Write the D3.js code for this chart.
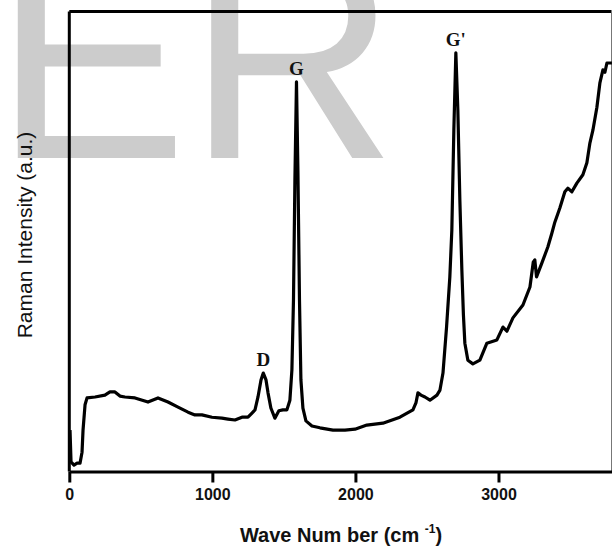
<!DOCTYPE html>
<html>
<head>
<meta charset="utf-8">
<script src="https://cdn.jsdelivr.net/npm/d3@7"></script>
<style>
  body { margin: 0; background: #fff; }
  svg { display: block; }
</style>
</head>
<body>
<div class="chart-container"></div>
<script>
// Raman spectrum (wave number in cm-1, intensity in a.u. 0..1000)
const waveNumber = [5, 12, 33, 54, 75, 89, 96, 110, 124, 180, 249, 284, 319, 354, 389, 459, 550, 620, 690, 760,
  830, 878, 927, 997, 1067, 1109, 1158, 1207, 1249, 1277, 1298, 1319, 1340, 1356, 1375, 1389, 1409, 1437, 1465, 1493,
  1521, 1542, 1556, 1567, 1577, 1588, 1598, 1609, 1619, 1633, 1654, 1696, 1752, 1843, 1927, 1997, 2080, 2192, 2311, 2402,
  2423, 2437, 2458, 2486, 2521, 2570, 2591, 2612, 2637, 2660, 2674, 2688, 2702, 2716, 2730, 2744, 2755, 2765, 2786, 2821,
  2870, 2919, 2989, 3031, 3059, 3101, 3171, 3220, 3243, 3254, 3266, 3303, 3345, 3373, 3394, 3429, 3464, 3485, 3513, 3548,
  3590, 3618, 3639, 3660, 3688, 3709, 3730, 3744, 3758, 3793];
const intensity = [90, 21, 14, 18, 18, 42, 90, 145, 160, 162, 166, 173, 173, 164, 162, 160, 151, 160, 151, 140,
  129, 123, 123, 118, 116, 114, 112, 118, 118, 127, 134, 162, 199, 214, 199, 171, 138, 116, 132, 134,
  134, 155, 221, 373, 634, 847, 655, 373, 199, 138, 110, 99, 95, 90, 90, 92, 101, 105, 118, 134,
  149, 171, 166, 162, 155, 166, 177, 214, 314, 423, 525, 742, 910, 786, 590, 438, 340, 279, 242, 234,
  242, 279, 286, 314, 305, 334, 362, 401, 455, 460, 423, 453, 488, 518, 542, 573, 608, 616, 608, 627,
  645, 671, 714, 742, 792, 845, 873, 868, 888, 888];

// peak labels
const peakNames = ['D', 'G', "G'"];
const peakWave = [1356, 1588, 2702];
const peakHeight = [214, 847, 910];

const xTicks = [0, 1000, 2000, 3000];
const xDomain = [0, 3790];
const yDomain = [0, 1000];

const spectrum = waveNumber.map((w, i) => ({ w: w, v: intensity[i] }));

const svg_width = 613;
const svg_height = 546;
const margin = { top: 11.5, right: 1.5, bottom: 74.5, left: 69.3 };
const chart_width = svg_width - margin.left - margin.right;
const chart_height = svg_height - margin.top - margin.bottom;

const svg = d3.select('.chart-container').append('svg')
  .attr('width', svg_width).attr('height', svg_height);

// watermark behind the plot
svg.append('text')
  .attr('x', -6).attr('y', 158)
  .style('font-family', '"Liberation Sans", Arial, sans-serif')
  .style('font-size', '290px')
  .style('fill', '#cccccc')
  .text('ER');

const g = svg.append('g')
  .attr('transform', `translate(${margin.left},${margin.top})`);

const xScale = d3.scaleLinear().domain(xDomain).range([0, chart_width]);
const yScale = d3.scaleLinear().domain(yDomain).range([chart_height, 0]);

// frame: thick left + top, thin right
g.append('line').attr('x1', 0).attr('x2', 0).attr('y1', 0).attr('y2', chart_height)
  .style('stroke', '#000').style('stroke-width', 3);
g.append('line').attr('x1', 0).attr('x2', chart_width).attr('y1', 0).attr('y2', 0)
  .style('stroke', '#000').style('stroke-width', 3);
g.append('line').attr('x1', chart_width).attr('x2', chart_width).attr('y1', 0).attr('y2', chart_height)
  .style('stroke', '#777').style('stroke-width', 1);

// spectrum line
const line = d3.line().x(d => xScale(d.w)).y(d => yScale(d.v));
g.append('path').datum(spectrum)
  .attr('d', line)
  .style('fill', 'none')
  .style('stroke', '#000')
  .style('stroke-width', 3.2)
  .style('stroke-linejoin', 'round');

// x axis
const xAxis = d3.axisBottom(xScale).tickValues(xTicks).tickFormat(d3.format('d'))
  .tickSizeInner(11).tickSizeOuter(0).tickPadding(6);
const xAxisDraw = g.append('g').attr('class', 'x axis')
  .attr('transform', `translate(0,${chart_height})`)
  .call(xAxis);
xAxisDraw.select('.domain').style('stroke', '#000').style('stroke-width', 3);
xAxisDraw.selectAll('.tick line').style('stroke', '#000').style('stroke-width', 3);
xAxisDraw.selectAll('.tick text')
  .style('font-family', '"Liberation Sans", Arial, sans-serif')
  .style('font-size', '16px')
  .style('font-weight', 'bold')
  .style('fill', '#111');

// peak labels
g.selectAll('.peak').data(peakNames).join('text')
  .attr('class', 'peak')
  .attr('x', (d, i) => xScale(peakWave[i]))
  .attr('y', (d, i) => yScale(peakHeight[i]) - 7)
  .attr('text-anchor', 'middle')
  .style('font-family', '"Liberation Serif", "Times New Roman", serif')
  .style('font-size', '19px')
  .style('font-weight', 'bold')
  .style('fill', '#111')
  .text(d => d);

// axis titles
const xTitle = svg.append('text')
  .attr('x', 341).attr('y', 541.5)
  .attr('text-anchor', 'middle')
  .style('font-family', '"Liberation Sans", Arial, sans-serif')
  .style('font-size', '20px')
  .style('font-weight', 'bold')
  .style('fill', '#111');
xTitle.append('tspan').text('Wave Num ber (cm ');
xTitle.append('tspan').attr('dy', -9).style('font-size', '12px').text('-1');
xTitle.append('tspan').attr('dy', 9).text(')');

svg.append('text')
  .attr('transform', 'translate(32,235) rotate(-90)')
  .attr('text-anchor', 'middle')
  .style('font-family', '"Liberation Sans", Arial, sans-serif')
  .style('font-size', '21px')
  .style('fill', '#111')
  .text('Raman Intensity (a.u.)');
</script>
</body>
</html>
